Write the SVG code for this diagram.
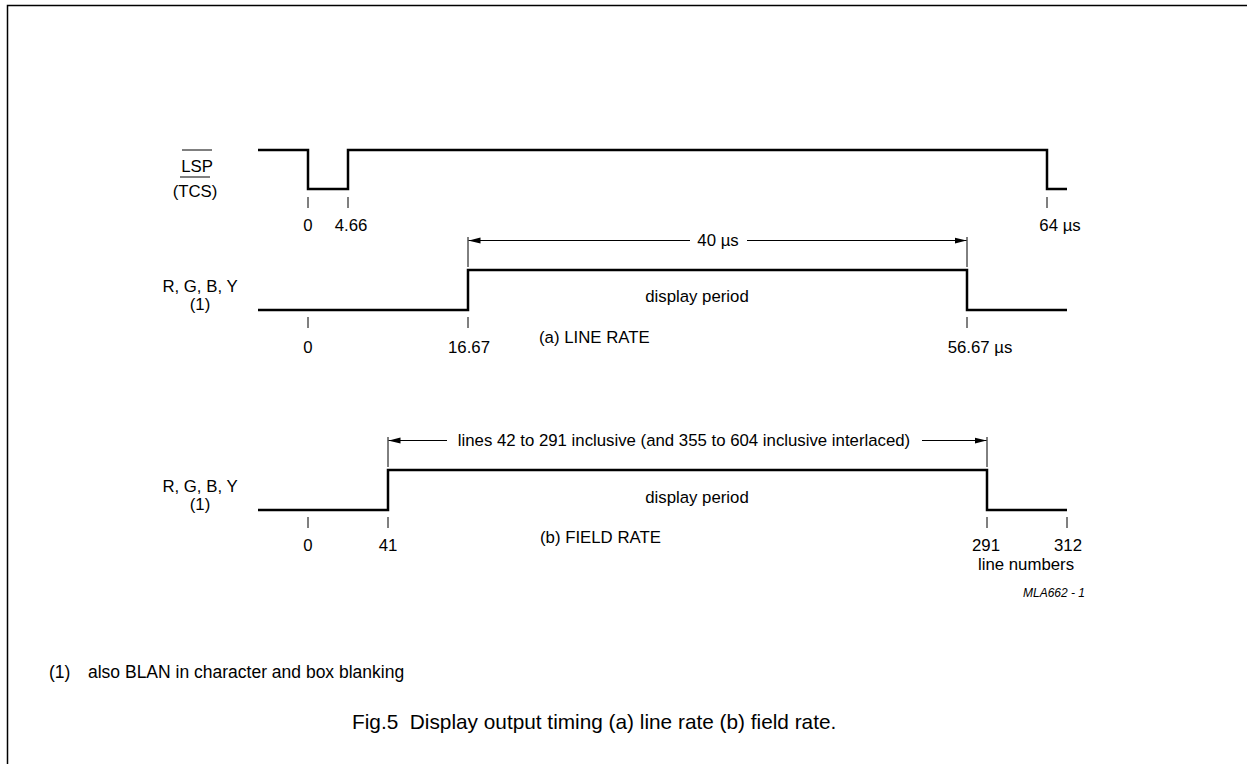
<svg xmlns="http://www.w3.org/2000/svg" width="1247" height="764" viewBox="0 0 1247 764">
<style>
text{font-family:"Liberation Sans",Arial,sans-serif;font-size:16.8px;fill:#000}
.w{fill:none;stroke:#000;stroke-width:2.5}
.t{stroke:#000;stroke-width:1}
.m{text-anchor:middle}
</style>
<defs>
<marker id="ah" viewBox="0 0 12 8" refX="12" refY="4" markerWidth="12" markerHeight="8" markerUnits="userSpaceOnUse" orient="auto"><path d="M0,1 L12,4 L0,7 Z" fill="#000"/></marker>
</defs>
<rect x="0" y="0" width="1247" height="764" fill="#fff"/>
<path d="M7.5,764 V5.5 H1247" fill="none" stroke="#000" stroke-width="1.5"/>
<g id="lsp">
<path class="w" d="M258,150 H308 V189 H348 V150 H1047 V189 H1067"/>
<text x="197" y="172" class="m">LSP</text>
<line class="t" x1="182" y1="150" x2="212" y2="150"/>
<text x="195" y="197" class="m">(TCS)</text>
<line class="t" x1="180" y1="177" x2="210" y2="177"/>
<text x="308" y="231" class="m">0</text>
<text x="351" y="231" class="m">4.66</text>
<text x="1060" y="231" class="m">64 µs</text>
</g>
<g id="line-rate">
<path class="w" d="M258,310 H468 V270 H967 V310 H1067"/>
<text x="200" y="292" class="m">R, G, B, Y</text>
<text x="200" y="310" class="m">(1)</text>
<text x="697" y="302" class="m">display period</text>
<text x="308" y="353" class="m">0</text>
<text x="469" y="353" class="m">16.67</text>
<text x="539" y="343">(a) LINE RATE</text>
<text x="980" y="353" class="m">56.67 µs</text>
<text x="718" y="246" class="m">40 µs</text>
</g>
<g id="field-rate">
<path class="w" d="M258,510 H388 V470 H987 V510 H1067"/>
<text x="200" y="492" class="m">R, G, B, Y</text>
<text x="200" y="510" class="m">(1)</text>
<text x="697" y="503" class="m">display period</text>
<text x="308" y="551" class="m">0</text>
<text x="388" y="551" class="m">41</text>
<text x="540" y="543">(b) FIELD RATE</text>
<text x="986" y="551" class="m">291</text>
<text x="1068" y="551" class="m">312</text>
<text x="1026" y="570" class="m">line numbers</text>
<text x="684" y="446" class="m">lines 42 to 291 inclusive (and 355 to 604 inclusive interlaced)</text>
<text x="1054" y="597" class="m" style="font-style:italic;font-size:12px">MLA662 - 1</text>
</g>
<g id="connectors">
<line class="t" x1="308" y1="197" x2="308" y2="208"/>
<line class="t" x1="348" y1="197" x2="348" y2="208"/>
<line class="t" x1="1047" y1="197" x2="1047" y2="208"/>
<line class="t" x1="308" y1="317" x2="308" y2="328"/>
<line class="t" x1="468" y1="317" x2="468" y2="328"/>
<line class="t" x1="967" y1="317" x2="967" y2="328"/>
<line class="t" x1="468" y1="237" x2="468" y2="267"/>
<line class="t" x1="967" y1="237" x2="967" y2="267"/>
<line class="t" x1="690" y1="240.5" x2="468.5" y2="240.5" marker-end="url(#ah)"/>
<line class="t" x1="747" y1="240.5" x2="966.5" y2="240.5" marker-end="url(#ah)"/>
<line class="t" x1="308" y1="517" x2="308" y2="528"/>
<line class="t" x1="388" y1="517" x2="388" y2="528"/>
<line class="t" x1="987" y1="517" x2="987" y2="528"/>
<line class="t" x1="1067" y1="517" x2="1067" y2="528"/>
<line class="t" x1="388" y1="437" x2="388" y2="467"/>
<line class="t" x1="987" y1="437" x2="987" y2="467"/>
<line class="t" x1="447" y1="440.5" x2="388.5" y2="440.5" marker-end="url(#ah)"/>
<line class="t" x1="922" y1="440.5" x2="986.5" y2="440.5" marker-end="url(#ah)"/>
</g>
<text x="49" y="678" style="font-size:17.5px">(1)</text>
<text x="88" y="678" style="font-size:17.5px">also BLAN in character and box blanking</text>
<text x="352" y="729" style="font-size:20.8px">Fig.5&#160; Display output timing (a) line rate (b) field rate.</text>
</svg>
